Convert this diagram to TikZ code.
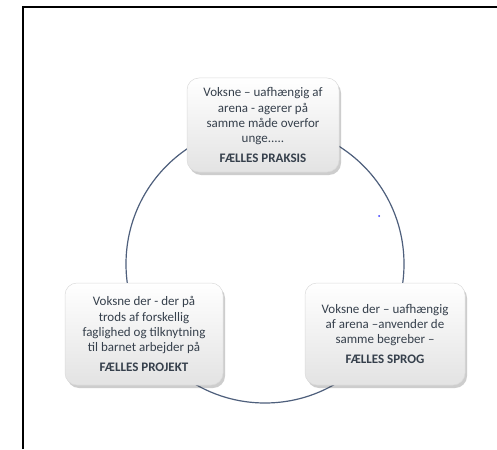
\documentclass[tikz,border=0pt]{standalone}
\usepackage{fontspec}
\setmainfont{Carlito}
\usetikzlibrary{shadows}
\definecolor{txt}{HTML}{36404C}
\definecolor{ring}{HTML}{4E5F7C}
\tikzset{
  card/.style={rounded corners=12pt, top color=white, bottom color=black!11,
    draw=black!14, line width=0.5pt,
    drop shadow={shadow xshift=2pt, shadow yshift=-3pt, opacity=0.28, fill=black!70},
    align=center, text=txt, font=\fontsize{13}{15.3}\selectfont, inner sep=0pt},
  ringline/.style={draw=ring, line width=1.2pt}
}
\begin{document}
\begin{tikzpicture}[x=1pt,y=-1pt]
\useasboundingbox (0,0) rectangle (497,449);
\fill[white] (0,0) rectangle (497,449);
% frame
\draw[line width=2pt, black] (22.5,449) -- (22.5,7.5) -- (497,7.5);
% ring
\coordinate (c) at (265,264);
\draw[ringline] (c) circle[radius=139pt];
% cards
\node[card, minimum width=152pt, minimum height=94pt] (praksis) at (263,125)
  {Voksne – uafhængig af\\ arena - agerer på\\ samme måde overfor\\ unge.....\\[4pt] \textbf{FÆLLES PRAKSIS}};
\node[card, minimum width=158pt, minimum height=102pt] (projekt) at (144,334)
  {Voksne der - der på\\ trods af forskellig\\ faglighed og tilknytning\\ til barnet arbejder på\\[4pt] \textbf{FÆLLES PROJEKT}};
\node[card, minimum width=160pt, minimum height=102pt] (sprog) at (385,334)
  {Voksne der – uafhængig\\ af arena –anvender de\\ samme begreber –\\[5pt] \textbf{FÆLLES SPROG}};
% stray dot
\fill[blue!80] (379,216) circle[radius=1pt];
\end{tikzpicture}
\end{document}
